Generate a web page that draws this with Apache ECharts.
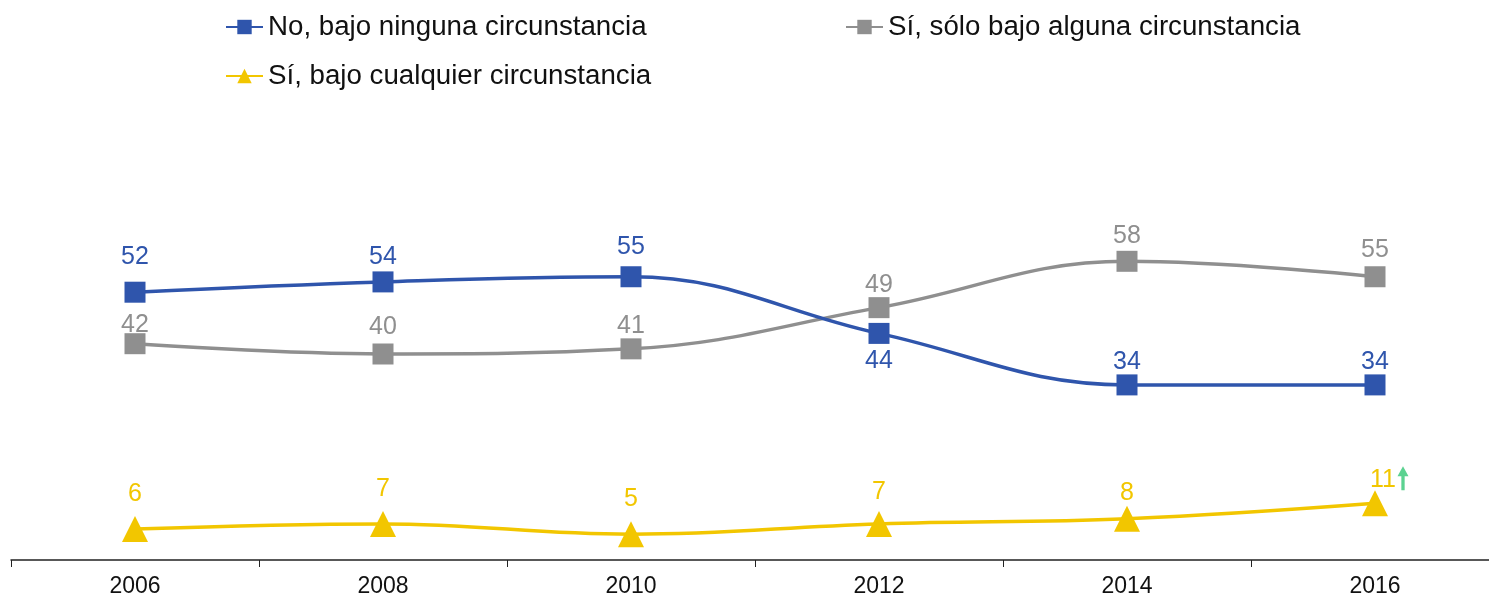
<!DOCTYPE html>
<html>
<head>
<meta charset="utf-8">
<script src="https://cdn.jsdelivr.net/npm/echarts@6/dist/echarts.min.js"></script>
<style>
  html, body { margin: 0; padding: 0; background: #fff; overflow: hidden; }
  #chart { width: 1499px; height: 601px; }
</style>
</head>
<body>
<div id="chart"></div>
<script>
// Data
const years = ["2006", "2008", "2010", "2012", "2014", "2016"];
const noNinguna = [52, 54, 55, 44, 34, 34];
const siAlguna = [42, 40, 41, 49, 58, 55];
const siCualquier = [6, 7, 5, 7, 8, 11];

// label gaps (px) taken from where the values sit in the picture
const blueGap = [12, 2, 7, 5, 0, 0];
const grayGap = [-4, 4, 0, 0, 2, 4];
const yellowGap = [9, 9, 10, 6, 0, -2];

const blue = "#2F55AC";
const gray = "#8F8F8F";
const yellow = "#F2C600";
const font = "'Liberation Sans', Arial, sans-serif";

const chart = echarts.init(document.getElementById("chart"));

const blueData = noNinguna.map((v, i) => ({
    value: v,
    // the 2012 value sits under its point
    label: { position: i === 3 ? "bottom" : "top", distance: blueGap[i] }
}));

const grayData = siAlguna.map((v, i) => ({
    value: v,
    label: { distance: grayGap[i] }
}));

const yellowData = siCualquier.map((v, i) => ({
    value: v,
    label: i === siCualquier.length - 1
        ? { distance: yellowGap[i], offset: [8, 0] }
        : { distance: yellowGap[i] }
}));

const legendText = { fontSize: 27.7, color: "#111", fontFamily: font };

const option = {
    animation: false,
    grid: { left: 11, right: 0, top: 148, bottom: 41 },
    legend: [
        { left: 220, top: 8, itemWidth: 37, itemHeight: 18, data: ["No, bajo ninguna circunstancia"], textStyle: legendText },
        { left: 840, top: 8, itemWidth: 37, itemHeight: 18, data: ["Sí, sólo bajo alguna circunstancia"], textStyle: legendText },
        { left: 220, top: 57, itemWidth: 37, itemHeight: 18, data: ["Sí, bajo cualquier circunstancia"], textStyle: legendText }
    ],
    xAxis: {
        type: "category",
        data: years,
        boundaryGap: true,
        axisLine: { lineStyle: { color: "#222", width: 1.5 } },
        axisTick: { show: true, length: 7, lineStyle: { color: "#222" } },
        axisLabel: { color: "#111", fontSize: 23, fontFamily: font, margin: 15 }
    },
    yAxis: {
        type: "value",
        min: 0,
        max: 80,
        show: false,
        splitLine: { show: false }
    },
    series: [
        {
            name: "No, bajo ninguna circunstancia",
            type: "line",
            data: blueData,
            smooth: 0.4,
            symbol: "rect",
            symbolSize: 21,
            color: blue,
            lineStyle: { width: 3.5, color: blue },
            label: { show: true, color: blue, fontSize: 25, fontFamily: font },
            z: 3
        },
        {
            name: "Sí, sólo bajo alguna circunstancia",
            type: "line",
            data: grayData,
            smooth: 0.4,
            symbol: "rect",
            symbolSize: 21,
            color: gray,
            lineStyle: { width: 3.5, color: gray },
            label: { show: true, position: "top", color: gray, fontSize: 25, fontFamily: font },
            z: 2
        },
        {
            name: "Sí, bajo cualquier circunstancia",
            type: "line",
            data: yellowData,
            smooth: 0.4,
            symbol: "triangle",
            symbolSize: 26,
            color: yellow,
            lineStyle: { width: 3.5, color: yellow },
            label: { show: true, position: "top", color: yellow, fontSize: 25, fontFamily: font },
            markPoint: {
                silent: true,
                symbol: "path://M5,0 L10,9 L6.5,9 L6.5,22 L3.5,22 L3.5,9 L0,9 Z",
                symbolSize: [11, 24],
                symbolOffset: [28, -25],
                itemStyle: { color: "#5CD291" },
                label: { show: false },
                data: [{ coord: ["2016", 11] }]
            },
            z: 2
        }
    ]
};

chart.setOption(option);
</script>
</body>
</html>
